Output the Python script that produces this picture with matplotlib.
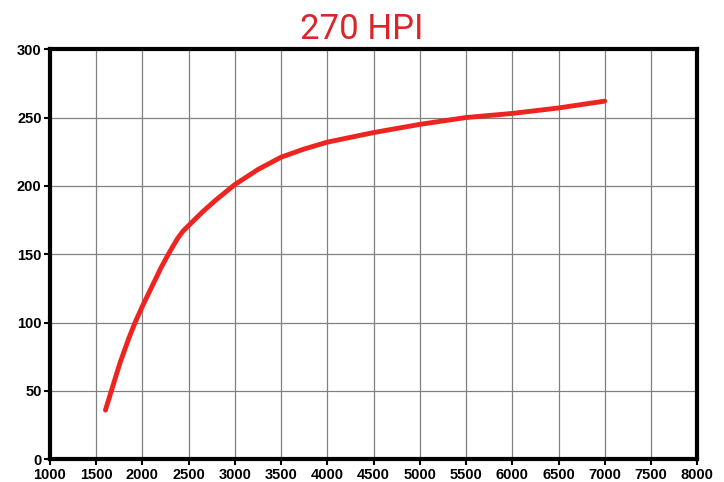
import matplotlib.pyplot as plt

# Values
rpm = [1600, 1700, 1760, 1850, 1920, 2000, 2100, 2200, 2280, 2340, 2385, 2440, 2500, 2650, 2800,
       3000, 3250, 3500, 3750, 4000, 4500, 5000, 5500, 6000, 6500, 7000]
hp = [36, 58, 71, 88, 100, 112, 126, 140, 150, 157, 162, 167, 171, 181, 190,
      201, 212, 221, 227, 232, 239, 245, 250, 253, 257, 262]

x_ticks = list(range(1000, 8001, 500))
y_ticks = list(range(0, 301, 50))

fig = plt.figure(figsize=(7.24, 4.82), dpi=100)
ax = fig.add_axes([0.069, 0.047, 0.894, 0.851])

ax.plot(rpm, hp, color="#ee2420", linewidth=3.5, solid_capstyle="round",
        solid_joinstyle="round", zorder=3)

ax.set_xlim(1000, 8000)
ax.set_ylim(0, 300)
ax.set_xticks(x_ticks)
ax.set_yticks(y_ticks)
ax.grid(True, color="#808080", linewidth=0.9)

for s in ax.spines.values():
    s.set_linewidth(3)
    s.set_color("black")

ax.tick_params(axis="both", direction="out", length=4, width=1.5, labelsize=10.5, pad=2)
for lbl in ax.get_xticklabels() + ax.get_yticklabels():
    lbl.set_fontweight("bold")
    lbl.set_family("Liberation Sans")

fig.text(0.5, 0.938, "270 HPI", ha="center", va="center", color="#d9252b",
         fontsize=25, family="Roboto")

plt.savefig("out.png", dpi=100)
